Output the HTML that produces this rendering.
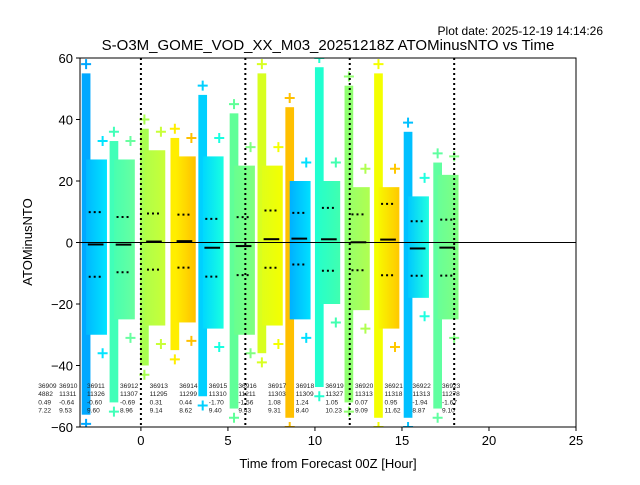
<!DOCTYPE html>
<html><head><meta charset="utf-8"><style>
body{margin:0;background:#fff}
svg{font-family:"Liberation Sans","DejaVu Sans",sans-serif}
</style></head><body>
<svg id="c" width="640" height="480" viewBox="0 0 640 480">
<text x="603" y="35" font-size="12" text-anchor="end">Plot date: 2025-12-19 14:14:26</text>
<text x="328" y="50" font-size="15" text-anchor="middle">S-O3M_GOME_VOD_XX_M03_20251218Z ATOMinusNTO vs Time</text>
<g id="marks"></g>
<rect x="80" y="58" width="496" height="369" fill="none" stroke="#000" stroke-width="1"/>
<g id="axes"></g>
<text x="328" y="468" font-size="13" text-anchor="middle">Time from Forecast 00Z [Hour]</text>
<text x="32" y="242" font-size="13" text-anchor="middle" transform="rotate(-90 32 242)">ATOMinusNTO</text>
</svg>
<script>
const groupHours=[-2.6,-1.0,0.75,2.5,4.1,5.9,7.5,9.1,10.8,12.5,14.2,15.9,17.6];
const groupMeans=[-0.64,-0.69,0.31,0.44,-1.70,-1.16,1.08,1.24,1.05,0.07,0.95,-1.94,-1.67];
const groupStds=[10.5,9.0,9.14,8.62,9.40,9.43,9.31,8.40,10.23,9.09,11.62,8.87,9.10];
const stripTop=[58,36,40,37,51,45,58,47,60,54,58,39,29];
const stripBottom=[-59,-55,-43,-38,-53,-57,-39,-60,-50,-55,-60,-60,-57];
const bodyTop=[27,27,30,28,28,25,25,20,20,18,18,15,22];
const bodyBottom=[-30,-25,-27,-26,-28,-30,-27,-25,-20,-22,-28,-18,-25];
const stripColors=["#00a8ff","#40ffb8","#a8ff50","#ffee00","#00d0ff","#60ff98","#d8ff20","#ffc000","#20ffd0","#90ff70","#f4ff00","#00c0ff","#60ffa0"];
const bodyLeftColors=["#00b8ff","#48ffb0","#b0ff48","#fff000","#00d8ff","#68ff90","#e0ff18","#00b0ff","#28ffc8","#98ff68","#f8f800","#00c8ff","#68ff98"];
const bodyColors=["#00e4ff","#68ffa0","#c8ff38","#ffc000","#18ffe0","#80ff80","#f4ff00","#00e0ff","#40ffb0","#b0ff50","#ffc800","#20ffe0","#80ff80"];
const labelHours=[-5.9,-4.7,-3.1,-1.2,0.5,2.2,3.9,5.6,7.3,8.9,10.6,12.3,14.0,15.6,17.3];
const labelIds=["36909","36910","36911","36912","36913","36914","36915","36916","36917","36918","36919","36920","36921","36922","36923"];
const labelCounts=["4882","11311","11326","11307","11295","11299","11310","11211","11303","11309","11327","11313","11318","11313","11278"];
const labelMeans=["0.49","-0.64","-0.60","-0.69","0.31","0.44","-1.70","-1.56","1.08","1.24","1.05","0.07","0.95","-1.94","-1.67"];
const labelStds=["7.22","9.53","9.60","8.96","9.14","8.62","9.40","9.43","9.31","8.40","10.23","9.09","11.62","8.87","9.10"];
const xTicks=[0,5,10,15,20,25];
const yTicks=[-60,-40,-20,0,20,40,60];
const vLines=[0,6,12,18];

const X0=80,X1=576,Y0=58,Y1=427,xmin=-3.5,xmax=25,ymin=-60,ymax=60;
const sx=v=>X0+(v-xmin)/(xmax-xmin)*(X1-X0);
const sy=v=>Y1-(v-ymin)/(ymax-ymin)*(Y1-Y0);
const NS="http://www.w3.org/2000/svg";
const svg=document.getElementById('c');
const marks=document.getElementById('marks');
const axes=document.getElementById('axes');
function mk(tag,attrs,parent){const e=document.createElementNS(NS,tag);for(const k in attrs)e.setAttribute(k,attrs[k]);parent.appendChild(e);return e;}
const defs=mk('defs',{},svg);
const clip=mk('clipPath',{id:'pc'},defs);mk('rect',{x:X0,y:Y0,width:X1-X0,height:Y1-Y0},clip);
marks.setAttribute('clip-path','url(#pc)');

groupHours.forEach((h,i)=>{
  const g=mk('g',{},marks);
  
  
  const gr=mk('linearGradient',{id:'gr'+i,x1:0,x2:1,y1:0,y2:0},defs);
  mk('stop',{offset:0,'stop-color':bodyLeftColors[i]},gr);
  mk('stop',{offset:1,'stop-color':bodyColors[i]},gr);
  const strip=mk('rect',{x:sx(h-0.8),y:sy(stripTop[i]-3),width:sx(h-0.3)-sx(h-0.8),height:sy(stripBottom[i]+3)-sy(stripTop[i]-3),fill:stripColors[i]},g);
  
  
  const body=mk('rect',{x:sx(h-0.55),y:sy(bodyTop[i]),width:sx(h+0.65)-sx(h-0.55),height:sy(bodyBottom[i])-sy(bodyTop[i]),fill:'url(#gr'+i+')'},g);
  
  
  [stripTop[i],stripBottom[i]].forEach(v=>{
    const px=sx(h-0.55),py=sy(v);
    mk('path',{d:`M${px-5},${py}H${px+5}M${px},${py-5}V${py+5}`,stroke:stripColors[i],'stroke-width':2},g);
  });
  [bodyTop[i]+6,bodyBottom[i]-6].forEach(v=>{
    const px=sx(h+0.4),py=sy(v);
    mk('path',{d:`M${px-5},${py}H${px+5}M${px},${py-5}V${py+5}`,stroke:bodyColors[i],'stroke-width':2},g);
  });
  const m=mk('line',{x1:sx(h-0.45),x2:sx(h+0.45),y1:sy(groupMeans[i]),y2:sy(groupMeans[i]),stroke:'#000','stroke-width':2},g);
  
  
  [groupMeans[i]+groupStds[i],groupMeans[i]-groupStds[i]].forEach(v=>{
    const s=mk('line',{x1:sx(h-0.4),x2:sx(h+0.4),y1:sy(v),y2:sy(v),stroke:'#000','stroke-width':2,'stroke-dasharray':'2,3'},g);
    
    
  });
});
vLines.forEach(v=>{
  const l=mk('line',{x1:sx(v),x2:sx(v),y1:Y0,y2:Y1,stroke:'#000','stroke-width':2,'stroke-dasharray':'2,3'},marks);
  
  
});
const zl=mk('line',{x1:X0,x2:X1,y1:sy(0),y2:sy(0),stroke:'#000','stroke-width':1},marks);



labelIds.forEach((id,i)=>{
  const x=sx(labelHours[i]);
  const t=mk('text',{x:x,y:388,'font-size':6.6,fill:'#222'},axes);
  
  
  [id,labelCounts[i],labelMeans[i],labelStds[i]].forEach((s,k)=>{
    const ts=mk('tspan',{x:x,dy:k?8.2:0},t);ts.textContent=s;
  });
});
xTicks.forEach(v=>{
  mk('line',{x1:sx(v),x2:sx(v),y1:Y1,y2:Y1+4,stroke:'#000'},axes);
  const t=mk('text',{x:sx(v),y:Y1+18,'font-size':13,'text-anchor':'middle'},axes);
  
  
  t.textContent=v;
});
yTicks.forEach(v=>{
  mk('line',{x1:X0-4,x2:X0,y1:sy(v),y2:sy(v),stroke:'#000'},axes);
  const t=mk('text',{x:X0-7,y:sy(v)+5,'font-size':13,'text-anchor':'end'},axes);
  
  
  t.textContent=v<0?'\u2212'+(-v):v;
});
</script>
</body></html>
